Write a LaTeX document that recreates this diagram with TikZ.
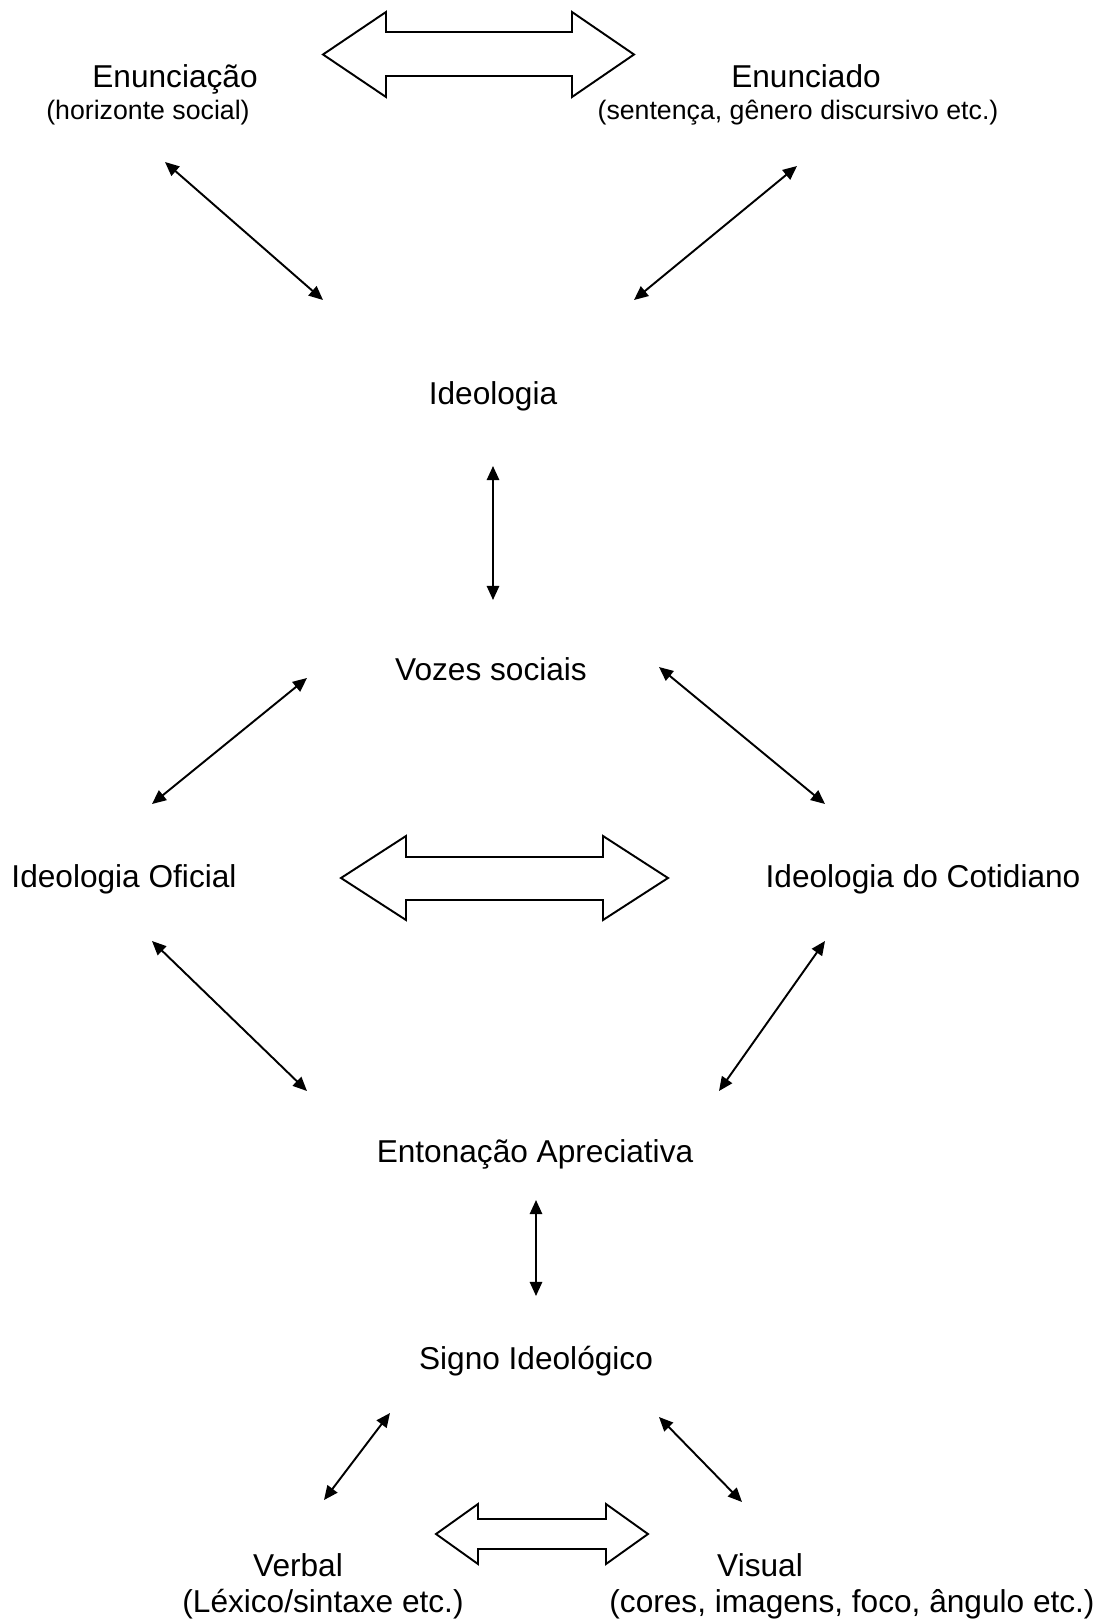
\documentclass[tikz,border=0pt]{standalone}
\usepackage{fontspec}
\setmainfont{Liberation Sans}
\usepackage{tikz}
\usetikzlibrary{calc,arrows.meta,positioning}
\definecolor{diagInk}{RGB}{0,0,0}
\definecolor{diagPaper}{RGB}{255,255,255}

\begin{document}
\begin{tikzpicture}[x=0.02cm, y=-0.02cm,
  lbl/.style={inner sep=0pt, text=diagInk, font=\fontsize{18}{21}\selectfont},
  sublbl/.style={inner sep=0pt, text=diagInk, font=\fontsize{15.2}{18}\selectfont},
  link/.style={diagInk, line width=1.1pt, {Triangle[length=8pt,width=7pt]}-{Triangle[length=8pt,width=7pt]}},
  blockArrow/.style={draw=diagInk, fill=diagPaper, line width=1.1pt, line join=miter}]
\useasboundingbox (0,0) rectangle (1112,1622);
% labels
\node[lbl] (enunciacao) at (175,79) {Enunciação};
\node[sublbl] (horizonte) at (148,113) {(horizonte social)};
\node[lbl] (enunciado) at (806,76) {Enunciado};
\node[sublbl] (sentenca) at (798,113) {(sentença, gênero discursivo etc.)};
\node[lbl] (ideologia) at (493,396) {Ideologia};
\node[lbl] (vozes) at (491,669) {Vozes sociais};
\node[lbl] (oficial) at (124,879) {Ideologia Oficial};
\node[lbl] (cotidiano) at (923,879) {Ideologia do Cotidiano};
\node[lbl] (entonacao) at (535,1154) {Entonação Apreciativa};
\node[lbl] (signo) at (536,1361) {Signo Ideológico};
\node[lbl] (verbal) at (298,1565) {Verbal};
\node[lbl] (lexico) at (323,1604) {(Léxico/sintaxe etc.)};
\node[lbl] (visual) at (760,1565) {Visual};
\node[lbl] (cores) at (852,1604) {(cores, imagens, foco, ângulo etc.)};
% arrow ends
\coordinate (a1) at (165,162);   \coordinate (b1) at (323,300);
\coordinate (a2) at (797,166);   \coordinate (b2) at (634,300);
\coordinate (a3) at (493,466);   \coordinate (b3) at (493,600);
\coordinate (a4) at (307,678);   \coordinate (b4) at (152,804);
\coordinate (a5) at (659,667);   \coordinate (b5) at (825,804);
\coordinate (a6) at (152,941);   \coordinate (b6) at (307,1091);
\coordinate (a7) at (825,941);   \coordinate (b7) at (719,1091);
\coordinate (a8) at (536,1200);  \coordinate (b8) at (536,1296);
\coordinate (a9) at (390,1413);  \coordinate (b9) at (324,1500);
\coordinate (a10) at (659,1417); \coordinate (b10) at (742,1502);
\foreach \i in {1,...,10}
  \draw[link] (a\i) -- (b\i);
% block arrows
\foreach \xa/\xb/\xc/\xd/\yt/\ys/\yu/\yb in {323/386/572/634/12/32/76/97, 341/406/603/668/836/857/900/920, 436/478/606/648/1504/1519/1549/1564}
  \draw[blockArrow] (\xa,{(\yt+\yb)/2}) -- (\xb,\yt) -- (\xb,\ys) -- (\xc,\ys) -- (\xc,\yt) -- (\xd,{(\yt+\yb)/2})
    -- (\xc,\yb) -- (\xc,\yu) -- (\xb,\yu) -- (\xb,\yb) -- cycle;
\end{tikzpicture}
\end{document}
